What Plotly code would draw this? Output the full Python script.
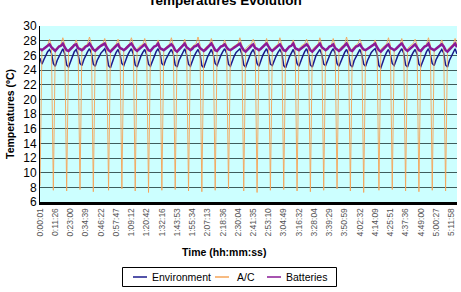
import plotly.graph_objects as go

tick_labels = ["0:00:01", "0:11:26", "0:23:00", "0:34:39", "0:46:22", "0:57:47", "1:09:12",
               "1:20:42", "1:32:16", "1:43:53", "1:55:34", "2:07:13", "2:18:36", "2:30:04",
               "2:41:35", "2:53:10", "3:04:49", "3:16:32", "3:28:04", "3:39:29", "3:50:59",
               "4:02:32", "4:14:09", "4:25:51", "4:37:36", "4:49:00", "5:00:27", "5:11:58"]
label_step = 8

series_names = ["Environment", "A/C", "Batteries"]

environment = [
    25.6, 24.8, 25.4, 26.0, 26.5, 26.8, 26.3,
    24.9, 24.5, 25.3, 25.9, 26.4, 26.9, 26.2,
    24.7, 24.4, 25.2, 25.8, 26.5, 26.8, 26.1,
    24.9, 24.6, 25.4, 26.0, 26.5, 26.9, 26.3,
    24.8, 24.5, 25.3, 25.9, 26.3, 26.6, 26.9, 26.2,
    24.6, 24.3, 25.2, 25.8, 26.4, 26.8, 26.1,
    24.9, 24.6, 25.4, 26.0, 26.5, 26.9, 26.2,
    24.7, 24.4, 25.3, 25.9, 26.4, 26.8, 26.1,
    24.8, 24.5, 25.2, 25.9, 26.5, 26.9, 26.3,
    24.9, 24.6, 25.4, 26.0, 26.4, 26.8, 26.2,
    24.7, 24.4, 25.3, 25.8, 26.5, 26.9, 26.1,
    24.8, 24.5, 25.3, 25.9, 26.4, 26.8, 26.2,
    24.6, 24.3, 25.2, 25.8, 26.3, 26.8, 26.1,
    24.9, 24.6, 25.4, 26.0, 26.5, 26.9, 26.3,
    24.8, 24.5, 25.3, 25.9, 26.4, 26.6, 26.9, 26.2,
    24.7, 24.4, 25.2, 25.8, 26.4, 26.8, 26.1,
    24.9, 24.5, 25.3, 26.0, 26.5, 26.9, 26.2,
    24.8, 24.6, 25.4, 25.9, 26.4, 26.8, 26.3,
    24.6, 24.3, 25.2, 25.8, 26.3, 26.8, 26.1,
    24.9, 24.5, 25.3, 25.9, 26.5, 26.9, 26.2,
    24.7, 24.4, 25.3, 26.0, 26.4, 26.8, 26.1,
    24.8, 24.6, 25.4, 25.9, 26.5, 26.9, 26.3,
    24.9, 24.5, 25.2, 25.8, 26.4, 26.8, 26.2,
    24.7, 24.4, 25.3, 25.9, 26.3, 26.8, 26.1,
    24.8, 24.5, 25.3, 25.9, 26.4, 26.7, 26.9, 26.2,
    24.6, 24.3, 25.2, 25.8, 26.4, 26.8, 26.1,
    24.9, 24.6, 25.4, 26.0, 26.5, 26.9, 26.3,
    24.7, 24.4, 25.3, 25.9, 26.4, 26.8, 26.2,
    24.8, 24.5, 25.2, 25.8, 26.5, 26.9, 26.1,
    24.9, 24.6, 25.4, 26.0, 26.4, 26.8, 26.3,
    24.7, 24.4, 25.3, 25.9, 26.5, 26.9, 26.2,
]

ac = [
    8.2, 26.6, 27.0, 27.2, 27.4, 28.2, 27.3,
    7.6, 26.8, 27.1, 27.3, 27.5, 28.4, 27.4,
    7.5, 26.7, 27.0, 27.3, 27.4, 28.1, 27.3,
    7.7, 26.9, 27.2, 27.3, 27.6, 28.5, 27.5,
    7.4, 26.8, 27.1, 27.2, 27.5, 27.6, 28.3, 27.4,
    7.6, 26.7, 27.0, 27.3, 27.5, 28.2, 27.3,
    7.8, 26.8, 27.1, 27.4, 27.6, 28.4, 27.5,
    7.5, 26.9, 27.2, 27.3, 27.5, 28.3, 27.4,
    7.3, 26.7, 27.0, 27.2, 27.4, 28.1, 27.3,
    7.6, 26.8, 27.1, 27.3, 27.5, 28.4, 27.4,
    7.7, 26.7, 27.0, 27.2, 27.4, 28.2, 27.3,
    7.5, 26.9, 27.2, 27.4, 27.6, 28.5, 27.5,
    7.4, 26.8, 27.1, 27.3, 27.5, 28.3, 27.4,
    7.6, 26.7, 27.0, 27.2, 27.4, 28.1, 27.3,
    7.8, 26.8, 27.1, 27.3, 27.5, 27.6, 28.4, 27.4,
    7.5, 26.9, 27.2, 27.4, 27.6, 28.2, 27.5,
    7.3, 26.7, 27.0, 27.2, 27.4, 28.3, 27.3,
    7.6, 26.8, 27.1, 27.3, 27.5, 28.4, 27.4,
    7.7, 26.7, 27.0, 27.2, 27.4, 28.1, 27.3,
    7.5, 26.9, 27.2, 27.4, 27.6, 28.2, 27.5,
    7.4, 26.8, 27.1, 27.3, 27.5, 28.4, 27.4,
    7.6, 26.7, 27.0, 27.2, 27.4, 28.3, 27.3,
    7.8, 26.8, 27.1, 27.3, 27.5, 28.5, 27.4,
    7.5, 26.9, 27.2, 27.4, 27.6, 28.2, 27.5,
    7.3, 26.7, 27.0, 27.2, 27.4, 27.5, 28.1, 27.3,
    7.6, 26.8, 27.1, 27.3, 27.5, 28.4, 27.4,
    7.7, 26.7, 27.0, 27.2, 27.4, 28.3, 27.3,
    7.5, 26.9, 27.2, 27.4, 27.6, 28.2, 27.5,
    7.4, 26.8, 27.1, 27.3, 27.5, 28.4, 27.4,
    7.6, 26.7, 27.0, 27.2, 27.4, 28.1, 27.3,
    7.5, 26.8, 27.1, 27.3, 27.5, 28.3, 27.4,
]

batteries = [
    26.9, 26.7, 26.9, 27.1, 27.3, 27.5, 27.1,
    26.8, 26.6, 26.9, 27.2, 27.3, 27.6, 27.1,
    26.7, 26.6, 26.8, 27.1, 27.4, 27.5, 27.0,
    26.8, 26.7, 26.9, 27.2, 27.3, 27.6, 27.2,
    26.8, 26.6, 26.9, 27.1, 27.3, 27.4, 27.6, 27.1,
    26.7, 26.5, 26.8, 27.1, 27.3, 27.5, 27.0,
    26.9, 26.7, 26.9, 27.2, 27.4, 27.6, 27.2,
    26.8, 26.6, 26.8, 27.1, 27.3, 27.5, 27.1,
    26.7, 26.6, 26.9, 27.2, 27.3, 27.6, 27.0,
    26.8, 26.7, 26.9, 27.1, 27.4, 27.5, 27.2,
    26.7, 26.5, 26.8, 27.1, 27.3, 27.6, 27.1,
    26.9, 26.7, 26.9, 27.2, 27.3, 27.5, 27.0,
    26.8, 26.6, 26.8, 27.1, 27.4, 27.6, 27.2,
    26.7, 26.6, 26.9, 27.2, 27.3, 27.5, 27.1,
    26.8, 26.7, 26.9, 27.1, 27.3, 27.4, 27.6, 27.1,
    26.7, 26.5, 26.8, 27.1, 27.3, 27.5, 27.0,
    26.9, 26.7, 26.9, 27.2, 27.4, 27.6, 27.2,
    26.8, 26.6, 26.8, 27.1, 27.3, 27.5, 27.1,
    26.7, 26.6, 26.9, 27.2, 27.3, 27.6, 27.0,
    26.8, 26.7, 26.9, 27.1, 27.4, 27.5, 27.2,
    26.7, 26.5, 26.8, 27.1, 27.3, 27.6, 27.1,
    26.9, 26.7, 26.9, 27.2, 27.3, 27.5, 27.0,
    26.8, 26.6, 26.8, 27.1, 27.4, 27.6, 27.2,
    26.7, 26.6, 26.9, 27.2, 27.3, 27.5, 27.1,
    26.8, 26.7, 26.9, 27.1, 27.3, 27.4, 27.6, 27.1,
    26.7, 26.5, 26.8, 27.1, 27.3, 27.5, 27.0,
    26.9, 26.7, 26.9, 27.2, 27.4, 27.6, 27.2,
    26.8, 26.6, 26.8, 27.1, 27.3, 27.5, 27.1,
    26.7, 26.6, 26.9, 27.2, 27.3, 27.6, 27.0,
    26.8, 26.7, 26.9, 27.1, 27.4, 27.5, 27.2,
    26.7, 26.5, 26.8, 27.1, 27.3, 27.6, 27.1,
]

x = list(range(len(environment)))
tick_positions = [i * label_step for i in range(len(tick_labels))]

FONT = "Liberation Sans, Arial, sans-serif"
COLORS = ["#1a1a8c", "#f5a458", "#8a1a96"]
WIDTHS = [1.5, 0.9, 2.5]

# plot area in pixels
W, H = 461, 292
L, R, T, B = 40, 4, 26, 90
PW, PH = W - L - R, H - T - B


def px_x(px):
    return (px - L) / PW


def px_y(py):
    return (H - B - py) / PH


fig = go.Figure()
for name, vals, col, wd in zip(series_names, [environment, ac, batteries], COLORS, WIDTHS):
    fig.add_trace(go.Scatter(x=x, y=vals, mode="lines", name=name, showlegend=False,
                             line=dict(color=col, width=wd)))

# custom legend (box, line samples, labels)
shapes = [dict(type="rect", xref="paper", yref="paper",
               x0=px_x(122.5), x1=px_x(336.5), y0=px_y(267.5), y1=px_y(286.5),
               line=dict(color="black", width=1), fillcolor="white", layer="above")]
annotations = []
legend_line_x = [(133, 147), (215, 229), (267, 281)]
legend_text_x = [150, 235, 284]
leg_y = 277
for name, col, (a, b), tx in zip(series_names, COLORS, legend_line_x, legend_text_x):
    shapes.append(dict(type="line", xref="paper", yref="paper",
                       x0=px_x(a), x1=px_x(b), y0=px_y(leg_y), y1=px_y(leg_y),
                       line=dict(color=col, width=1.5), layer="above"))
    annotations.append(dict(text=name, xref="paper", yref="paper", x=px_x(tx), y=px_y(leg_y),
                            xanchor="left", yanchor="middle", showarrow=False,
                            font=dict(size=10.5, color="black", family=FONT)))

annotations.append(dict(text="<b>Time (hh:mm:ss)</b>", xref="paper", yref="paper",
                        x=px_x(223.5), y=px_y(252), xanchor="center", yanchor="middle",
                        showarrow=False, font=dict(size=10.5, color="black", family=FONT)))

fig.update_layout(
    width=W, height=H,
    margin=dict(l=L, r=R, t=T, b=B),
    paper_bgcolor="white",
    plot_bgcolor="#ccffff",
    font=dict(family=FONT, color="black"),
    title=dict(text="<b>Temperatures Evolution</b>", x=225 / W, xanchor="center",
               y=0.998, yanchor="middle", font=dict(size=13.5, color="black")),
    showlegend=False,
    shapes=shapes,
    annotations=annotations,
)

fig.update_xaxes(
    range=[0, len(environment) - 1],
    tickmode="array", tickvals=tick_positions, ticktext=tick_labels,
    tickangle=-90, tickfont=dict(size=8.5, color="#555555"),
    showgrid=False, zeroline=False,
    showline=True, linecolor="black", linewidth=2.5,
    ticks="",
)
fig.update_yaxes(
    range=[6, 30], dtick=2, tick0=6,
    tickfont=dict(size=12, color="black"),
    showgrid=True, gridcolor="#3e5c5c", gridwidth=1,
    zeroline=False, showline=True, linecolor="black", linewidth=1,
    ticks="",
    title=dict(text="<b>Temperatures (ºC)</b>", font=dict(size=10.5), standoff=6),
)

fig.write_html("out.html")
